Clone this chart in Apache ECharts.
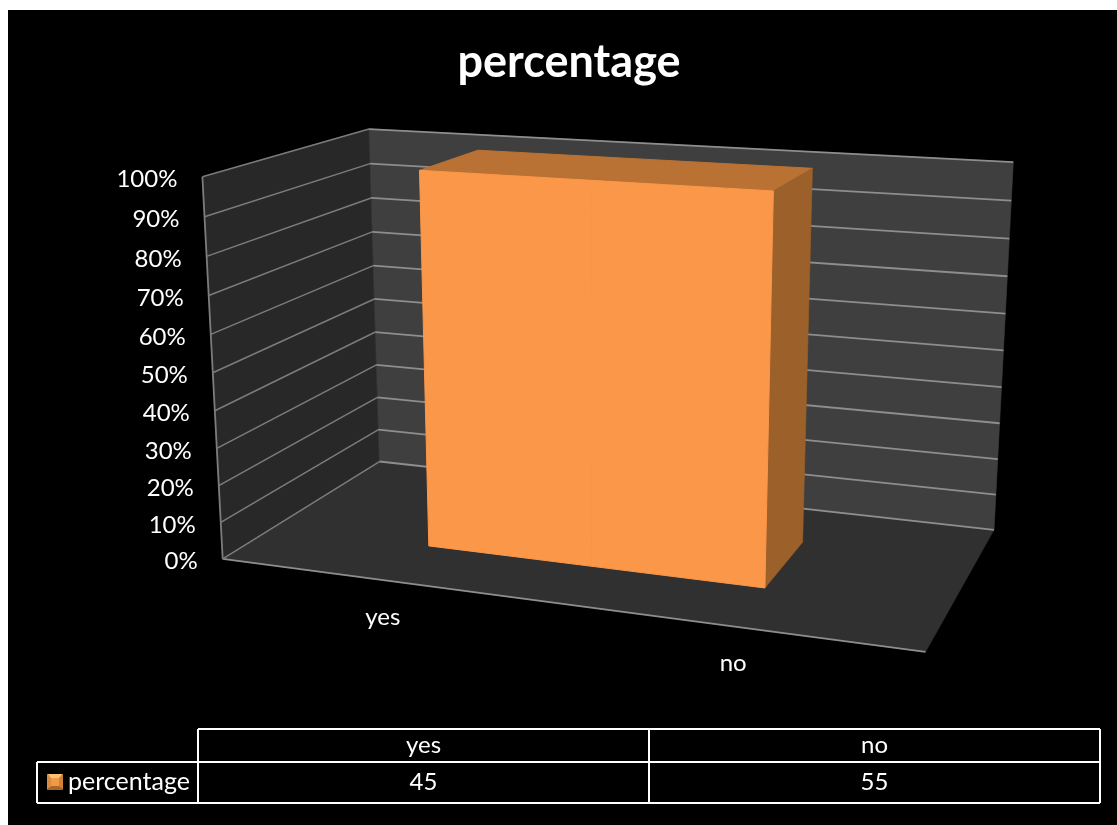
<!DOCTYPE html>
<html>
<head>
<meta charset="utf-8">
<title>percentage</title>
<style>
  html, body { margin: 0; padding: 0; background: #fff; }
  #chart { width: 1117px; height: 825px; }
</style>
<script src="https://cdn.jsdelivr.net/npm/echarts@6/dist/echarts.min.js"></script>
</head>
<body>
<div id="chart"></div>
<script>
// Chart content
const chartTitle = 'percentage';
const seriesName = 'percentage';
const categories = ['yes', 'no'];
const percentageValues = [45, 55];
const axisTicks = [0, 10, 20, 30, 40, 50, 60, 70, 80, 90, 100];

// Share of each category's stack, as in a 100% stacked column chart
const stackedSeries = [percentageValues];
const stackTotals = categories.map((_, i) => stackedSeries.reduce((sum, s) => sum + s[i], 0));
const percentageShares = percentageValues.map((v, i) => v / stackTotals[i] * 100);

// Depth range of the column block inside the plot box
const BAR_DEPTH = [0.30, 0.70];

// Camera calibration: where reference points of the unit box [x, height, depth] land on the page
const CALIBRATION = [
  [[0, 0, 0], [222, 558]],
  [[1, 0, 0], [926, 652]],
  [[0, 1, 0], [202, 176]],
  [[0, 0, 1], [380, 462]],
  [[1, 0, 1], [994, 530]],
  [[0, 1, 1], [369, 128]],
  [[1, 1, 1], [1013, 160]],
  [[0.25, 1, 0.3], [420, 172]],
  [[0.75, 1, 0.3], [774, 191]],
  [[0.25, 0, 0.3], [429, 546]],
  [[0.75, 0, 0.3], [765, 587]],
  [[0.25, 1, 0.7], [478, 151]],
  [[0.75, 1, 0.7], [812, 170]],
  [[0.75, 0, 0.7], [802, 543]]
];

const COLORS = {
  page: '#ffffff', backdrop: '#000000', text: '#ffffff',
  backWall: '#3f3f3f', sideWall: '#282828', floor: '#303030',
  gridBack: '#8e8e8e', gridSide: '#7c7c7c',
  barFront: '#fb9749', barTop: '#b97233', barSide: '#9c602b'
};
const FONT = 'Lato';

// Least-squares fit of a 3x4 projective camera (last entry fixed at 1)
function fitCamera(pairs) {
  const rows = [], rhs = [];
  pairs.forEach(([[x, y, z], [px, py]]) => {
    const u = px / 1000, v = py / 1000;
    rows.push([x, y, z, 1, 0, 0, 0, 0, -u * x, -u * y, -u * z]); rhs.push(u);
    rows.push([0, 0, 0, 0, x, y, z, 1, -v * x, -v * y, -v * z]); rhs.push(v);
  });
  const n = 11;
  const A = [];
  for (let i = 0; i < n; i++) {
    A.push(new Array(n + 1).fill(0));
    for (let j = 0; j < n; j++) rows.forEach(r => { A[i][j] += r[i] * r[j]; });
    rows.forEach((r, k) => { A[i][n] += r[i] * rhs[k]; });
  }
  for (let c = 0; c < n; c++) {
    let p = c;
    for (let r = c + 1; r < n; r++) if (Math.abs(A[r][c]) > Math.abs(A[p][c])) p = r;
    [A[c], A[p]] = [A[p], A[c]];
    for (let r = 0; r < n; r++) {
      if (r === c) continue;
      const f = A[r][c] / A[c][c];
      for (let k = c; k <= n; k++) A[r][k] -= f * A[c][k];
    }
  }
  return A.map((row, i) => row[n] / row[i]);
}
const CAM = fitCamera(CALIBRATION);

function project(x, y, z) {
  const w = CAM[8] * x + CAM[9] * y + CAM[10] * z + 1;
  return [
    1000 * (CAM[0] * x + CAM[1] * y + CAM[2] * z + CAM[3]) / w,
    1000 * (CAM[4] * x + CAM[5] * y + CAM[6] * z + CAM[7]) / w
  ];
}

const poly = (points, fill, strokeWidth) => ({
  type: 'polygon', silent: true,
  shape: { points },
  style: { fill, stroke: fill, lineWidth: strokeWidth === undefined ? 0.6 : strokeWidth }
});
const line = (points, stroke, lineWidth) => ({
  type: 'polyline', z2: 1, silent: true,
  shape: { points },
  style: { fill: 'none', stroke, lineWidth }
});
const label = (x, y, text, align, size) => ({
  type: 'text', z2: 3, silent: true,
  style: { x, y, text, fill: COLORS.text, font: `${size}px ${FONT}`, align, verticalAlign: 'middle' }
});

// Convert a point of the value scales to unit-box coordinates
const toUnit = (pt, cs) => [(pt[0] - cs.x) / cs.width, (cs.y + cs.height - pt[1]) / cs.height];

// Walls, floor and one ring of gridlines per axis tick
function renderFrame(params, api) {
  const cs = params.coordSys;
  const tick = api.value(0);
  const h = toUnit(api.coord([0, tick]), cs)[1];
  const children = [];
  if (params.dataIndex === 0) {
    children.push(
      poly([project(0, 0, 0), project(1, 0, 0), project(1, 0, 1), project(0, 0, 1)], COLORS.floor),
      poly([project(0, 0, 0), project(0, 1, 0), project(0, 1, 1), project(0, 0, 1)], COLORS.sideWall),
      poly([project(0, 0, 1), project(0, 1, 1), project(1, 1, 1), project(1, 0, 1)], COLORS.backWall),
      line([project(0, 0, 0), project(0, 1, 0)], COLORS.gridSide, 1.8),
      line([project(0, 0, 0), project(1, 0, 0)], COLORS.gridBack, 1.8)
    );
  }
  children.push(
    line([project(0, h, 0), project(0, h, 1)], COLORS.gridSide, 1.5),
    line([project(0, h, 1), project(1, h, 1)], COLORS.gridBack, 1.8)
  );
  const at = project(0, h, 0);
  children.push(label(at[0] - 25, at[1] + 2.5, tick + '%', 'right', 24));
  return { type: 'group', children };
}

// Column block: each category runs from its band centre to the shared band boundary
function renderBar(params, api) {
  const cs = params.coordSys;
  const i = api.value(0);
  const top = api.coord([i, api.value(1)]);
  const base = api.coord([i, 0]);
  const band = api.size([1, 0])[0];
  const towardsMiddle = i < categories.length / 2;
  const centre = toUnit(base, cs)[0];
  const edge = toUnit([top[0] + (towardsMiddle ? band : -band) / 2, top[1]], cs)[0];
  const x0 = Math.min(centre, edge), x1 = Math.max(centre, edge);
  const y1 = toUnit(top, cs)[1], y0 = toUnit(base, cs)[1];
  const [z0, z1] = BAR_DEPTH;
  const at = project(centre, 0, 0);
  const children = [
    poly([project(x0, y1, z0), project(x1, y1, z0), project(x1, y1, z1), project(x0, y1, z1)], COLORS.barTop, 1),
    poly([project(x0, y0, z0), project(x1, y0, z0), project(x1, y1, z0), project(x0, y1, z0)], COLORS.barFront, 1)
  ];
  // Only the outer end of the block shows a side face
  if (!towardsMiddle) {
    children.splice(1, 0,
      poly([project(x1, y0, z0), project(x1, y1, z0), project(x1, y1, z1), project(x1, y0, z1)], COLORS.barSide));
  }
  children.push(label(at[0], at[1] + 37, categories[i], 'center', 24));
  return { type: 'group', children };
}

// Data table below the plot
const TABLE = { left: 37, head: 198, mid: 649, right: 1100, top: 729, row: 762, bottom: 803 };
const columnCentres = [(TABLE.head + TABLE.mid) / 2, (TABLE.mid + TABLE.right) / 2];
function tableElements() {
  const t = TABLE;
  const segments = [
    [t.head, t.top, t.right, t.top],
    [t.left, t.row, t.right, t.row],
    [t.left, t.bottom, t.right, t.bottom],
    [t.left, t.row, t.left, t.bottom],
    [t.head, t.top, t.head, t.bottom],
    [t.mid, t.top, t.mid, t.bottom],
    [t.right, t.top, t.right, t.bottom]
  ];
  const els = segments.map(([x1, y1, x2, y2]) => ({
    type: 'line', silent: true, z: 5,
    shape: { x1, y1, x2, y2 },
    style: { stroke: '#ffffff', lineWidth: 2 }
  }));
  const cell = (x, y, text) => ({
    type: 'text', silent: true, z: 5,
    style: { x, y, text: String(text), fill: COLORS.text, font: `24px ${FONT}`, align: 'center', verticalAlign: 'middle' }
  });
  categories.forEach((c, i) => {
    els.push(cell(columnCentres[i], 745, c));
    els.push(cell(columnCentres[i], 782, percentageValues[i]));
  });
  return els;
}

// Bevel of the legend swatch, laid over the legend icon
const KEY = { x: 47, y: 774, w: 16, h: 16, inset: 4 };
function keyBevel() {
  const { x, y, w, h, inset } = KEY;
  const a = [x, y], b = [x + w, y], c = [x + w, y + h], d = [x, y + h];
  const e = [x + inset, y + inset], f = [x + w - inset, y + inset];
  const g = [x + w - inset, y + h - inset], k = [x + inset, y + h - inset];
  return [
    [[a, b, f, e], '#f8c274'],
    [[b, c, g, f], '#cf8238'],
    [[c, d, k, g], '#a8662b'],
    [[d, a, e, k], '#d98b3d'],
    [[e, f, g, k], '#f09a48']
  ].map(([points, fill]) => ({
    type: 'polygon', silent: true, z: 10,
    shape: { points }, style: { fill }
  }));
}

const chart = echarts.init(document.getElementById('chart'), null, { renderer: 'canvas' });
chart.setOption({
  animation: false,
  backgroundColor: COLORS.page,
  title: {
    text: chartTitle, left: 564, top: 35, textAlign: 'center',
    textStyle: { color: COLORS.text, fontFamily: FONT, fontWeight: 'bold', fontSize: 45 }
  },
  legend: {
    left: 47, top: 769, padding: 0, selectedMode: false,
    itemWidth: 16, itemHeight: 12,
    textStyle: { color: COLORS.text, fontFamily: FONT, fontSize: 25 },
    data: [{ name: seriesName, icon: 'rect', itemStyle: { color: COLORS.barFront } }]
  },
  grid: { left: 222, top: 176, width: 704, height: 382 },
  xAxis: { type: 'category', data: categories, show: false },
  yAxis: { type: 'value', min: 0, max: 100, interval: 10, show: false },
  graphic: {
    elements: [{
      type: 'rect', silent: true, z: -1,
      shape: { x: 8, y: 10, width: 1109, height: 815 },
      style: { fill: COLORS.backdrop }
    }].concat(tableElements(), keyBevel())
  },
  series: [
    {
      name: 'frame', type: 'custom', silent: true, z: 1,
      renderItem: renderFrame,
      encode: { y: 0 },
      data: axisTicks.map(t => [t])
    },
    {
      name: seriesName, type: 'custom', silent: true, z: 2,
      renderItem: renderBar,
      encode: { x: 0, y: 1 },
      itemStyle: { color: COLORS.barFront },
      data: percentageShares.map((s, i) => [i, s])
    }
  ]
});
</script>
</body>
</html>
